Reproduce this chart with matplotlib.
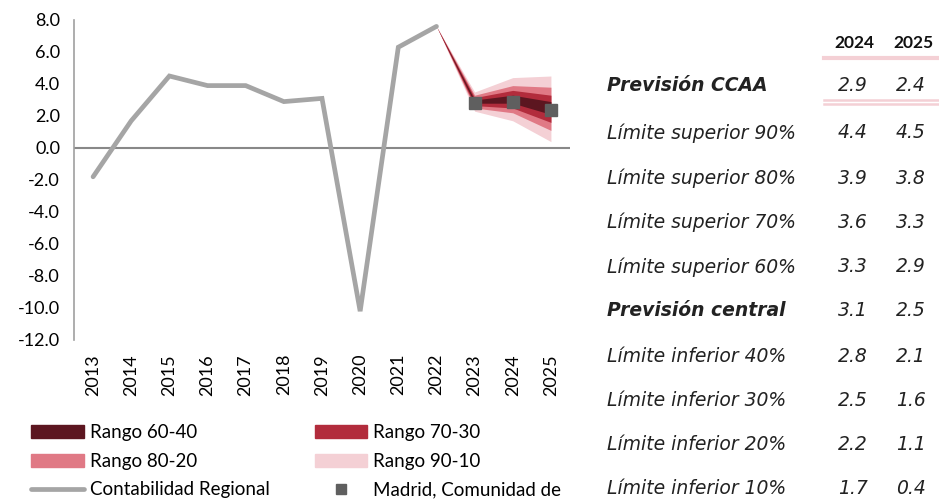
import matplotlib
matplotlib.use("Agg")
import matplotlib.pyplot as plt
import numpy as np
from matplotlib.patches import Patch
from matplotlib.lines import Line2D

years = ["2013", "2014", "2015", "2016", "2017", "2018", "2019", "2020",
         "2021", "2022", "2023", "2024", "2025"]
contab_years = years[:10]
contab = [-1.8, 1.7, 4.5, 3.9, 3.9, 2.9, 3.1, -10.2, 6.3, 7.6]
madrid_years = ["2023", "2024", "2025"]
madrid = [2.8, 2.9, 2.4]

fan_years = ["2022", "2023", "2024", "2025"]
p90 = [7.6, 3.5, 4.4, 4.5]
p80 = [7.6, 3.3, 3.9, 3.8]
p70 = [7.6, 3.15, 3.6, 3.3]
p60 = [7.6, 3.0, 3.3, 2.9]
p40 = [7.6, 2.8, 2.8, 2.1]
p30 = [7.6, 2.65, 2.5, 1.6]
p20 = [7.6, 2.5, 2.2, 1.1]
p10 = [7.6, 2.3, 1.7, 0.4]

table_header = ["2024", "2025"]
row_labels = ["Previsión CCAA", "Límite superior 90%", "Límite superior 80%",
              "Límite superior 70%", "Límite superior 60%", "Previsión central",
              "Límite inferior 40%", "Límite inferior 30%", "Límite inferior 20%",
              "Límite inferior 10%"]
vals_2024 = ["2.9", "4.4", "3.9", "3.6", "3.3", "3.1", "2.8", "2.5", "2.2", "1.7"]
vals_2025 = ["2.4", "4.5", "3.8", "3.3", "2.9", "2.5", "2.1", "1.6", "1.1", "0.4"]
bold_rows = ["Previsión CCAA", "Previsión central"]

c6040 = "#5c1620"
c7030 = "#b22c3c"
c8020 = "#e07985"
c9010 = "#f4d0d5"
cgrey = "#a5a5a5"
cmark = "#5f5f5f"

plt.rcParams['font.family'] = ['Lato', 'DejaVu Sans']

W, H = 939, 500
fig = plt.figure(figsize=(W / 100, H / 100), dpi=100)
ax = fig.add_axes([74 / W, 1 - 340 / H, (570 - 74) / W, (340 - 20) / H])

pos = {y: i for i, y in enumerate(years)}
fx = [pos[y] for y in fan_years]

ax.fill_between(fx, p10, p90, color=c9010, lw=0, zorder=2)
ax.fill_between(fx, p20, p80, color=c8020, lw=0, zorder=3)
ax.fill_between(fx, p30, p70, color=c7030, lw=0, zorder=4)
ax.fill_between(fx, p40, p60, color=c6040, lw=0, zorder=5)

ax.axhline(0, color="#888888", lw=1.5, zorder=1)
ax.plot([pos[y] for y in contab_years], contab, color=cgrey, lw=3.4,
        solid_capstyle="round", solid_joinstyle="miter", zorder=6)
ax.plot([pos[y] for y in madrid_years], madrid, ls="none", marker="s",
        ms=8, color=cmark, zorder=7)

ax.set_xlim(-0.5, len(years) - 0.5)
ax.set_ylim(-12, 8)
ax.set_yticks(np.arange(-12, 8.1, 2))
ax.set_yticklabels([f"{v:.1f}" for v in np.arange(-12, 8.1, 2)], fontsize=13)
ax.set_xticks(range(len(years)))
ax.set_xticklabels(years, rotation=90, fontsize=13)
ax.tick_params(axis="both", length=0)
ax.tick_params(axis="x", pad=10)
ax.tick_params(axis="y", pad=10)
for s in ["top", "right", "bottom"]:
    ax.spines[s].set_visible(False)
ax.spines["left"].set_color("#a0a0a0")
ax.spines["left"].set_linewidth(1.2)

handles = [
    Patch(color=c6040), Patch(color=c8020),
    Line2D([0], [0], color=cgrey, lw=3.4, solid_capstyle="round"),
    Patch(color=c7030), Patch(color=c9010),
    Line2D([0], [0], ls="none", marker="s", ms=7, color=cmark),
]
labels = ["Rango 60-40", "Rango 80-20", "Contabilidad Regional",
          "Rango 70-30", "Rango 90-10", "Madrid, Comunidad de"]
fig.legend(handles, labels, ncol=2, loc="upper left",
           bbox_to_anchor=(31 / W, 1 - 424 / H), frameon=False,
           fontsize=13.5, handlelength=2.8, handleheight=0.7,
           handletextpad=0.33, columnspacing=2.4, labelspacing=0.62,
           borderaxespad=0, borderpad=0)

# table
def fy(py):
    return 1 - py / H

fig.text(854 / W, fy(43), table_header[0], ha="center", va="center",
         fontsize=12.5, fontweight="bold", color="#111111")
fig.text(913 / W, fy(43), table_header[1], ha="center", va="center",
         fontsize=12.5, fontweight="bold", color="#111111")

row_y = [86, 133, 178, 222, 267, 311, 356, 401, 445, 488]
for lab, v1, v2, yy in zip(row_labels, vals_2024, vals_2025, row_y):
    bold = lab in bold_rows
    fig.text(607 / W, fy(yy), lab, ha="left", va="center", fontsize=13.5,
             style="italic", fontweight="bold" if bold else "normal",
             family=["DejaVu Sans"], color="#222222")
    fig.text(853 / W, fy(yy), v1, ha="center", va="center", fontsize=13.5,
             style="italic", family=["DejaVu Sans"], color="#222222")
    fig.text(911 / W, fy(yy), v2, ha="center", va="center", fontsize=13.5,
             style="italic", family=["DejaVu Sans"], color="#222222")

for yy, lw in [(58, 3.0), (100, 1.8), (104, 1.8)]:
    fig.add_artist(Line2D([824 / W, 938 / W], [fy(yy), fy(yy)],
                          color=c9010, lw=lw, transform=fig.transFigure))

fig.savefig("out.png", dpi=100)
